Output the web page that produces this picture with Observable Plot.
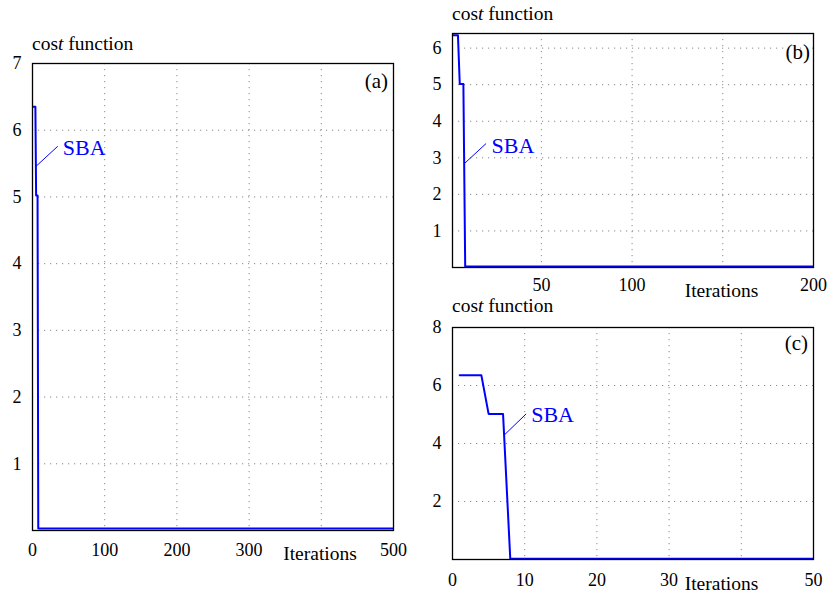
<!DOCTYPE html>
<html><head><meta charset="utf-8">
<script src="https://cdn.jsdelivr.net/npm/d3@7"></script>
<script src="https://cdn.jsdelivr.net/npm/@observablehq/plot@0.6"></script>
<style>
body{margin:0;background:#fff;}
#wrap{position:relative;width:828px;height:594px;overflow:hidden;font-family:'Liberation Serif',serif;}
#wrap svg{position:absolute;overflow:visible;font-family:'Liberation Serif',serif !important;}
#wrap svg text{font-family:'Liberation Serif',serif !important;}
</style></head><body><div id="wrap"></div>
<script>
// ---- data ----
const iterations = [1, 4, 5, 7, 8, 500];
const cost = [6.35, 6.35, 5.02, 5.02, 0.03, 0.03];
const seriesName = "SBA";
const panelLabels = ["(a)", "(b)", "(c)"];
const xDomains = [[0, 500], [1, 200], [0, 50]];
const yDomains = [[0, 7], [0, 6.4], [0, 8]];
const xTickLabels = [[0, 100, 200, 300, 500], [50, 100, 200], [0, 10, 20, 30, 50]];
const xGridLines = [[100, 200, 300, 400], [50, 100, 150], [10, 20, 30, 40]];
const yTickLabels = [[1, 2, 3, 4, 5, 6, 7], [1, 2, 3, 4, 5, 6], [2, 4, 6, 8]];
const yGridLines = [[1, 2, 3, 4, 5, 6], [1, 2, 3, 4, 5, 6], [2, 4, 6]];
const xTitle = "Iterations";
// leader annotation for the series name (data units): from [x,y] to [x,y], text at [x,y]
const leaderFrom = [[4, 5.45], [7.5, 2.84], [7.2, 4.3]];
const leaderTo = [[35, 5.76], [19.5, 3.39], [10.2, 5.02]];
const nameAt = [[42, 5.73], [22.5, 3.32], [10.9, 4.98]];

const data = iterations.map((x, i) => ({x, y: cost[i]}));

// ---- layout ----
const layout = [
  {left: 0, top: 0, width: 420, height: 594, ml: 32, mr: 27, mt: 63, mb: 64, xpad: 13,
   title: [32, 43.5], xlab: [320, 553], letter: [388, 81]},
  {left: 420, top: 0, width: 408, height: 300, ml: 32, mr: 15, mt: 33, mb: 33, xpad: 11,
   title: [32, 13.5], xlab: [301.5, 290], letter: [390, 52]},
  {left: 420, top: 290, width: 408, height: 304, ml: 32, mr: 15, mt: 37, mb: 35, xpad: 14,
   title: [32, 15], xlab: [301.5, 293], letter: [388, 53]}
];

const wrap = document.getElementById("wrap");
const BLUE = "#0000ff";
const FONT = "'Liberation Serif', serif";

layout.forEach((L, i) => {
  const ann = [{x1: leaderFrom[i][0], y1: leaderFrom[i][1], x2: leaderTo[i][0], y2: leaderTo[i][1]}];
  const svg = Plot.plot({
    width: L.width, height: L.height,
    marginLeft: L.ml, marginRight: L.mr, marginTop: L.mt, marginBottom: L.mb,
    x: {domain: xDomains[i]},
    y: {domain: yDomains[i]},
    style: {fontFamily: FONT, fontSize: "18px", background: "transparent", color: "black"},
    marks: [
      Plot.gridX(xGridLines[i], {stroke: "#8a8a8a", strokeOpacity: 1, strokeWidth: 1, strokeDasharray: "1.2,4.8"}),
      Plot.gridY(yGridLines[i], {stroke: "#8a8a8a", strokeOpacity: 1, strokeWidth: 1, strokeDasharray: "1.2,4.8"}),
      Plot.axisX({ticks: xTickLabels[i], tickSize: 0, tickPadding: L.xpad, label: null, fontSize: 18, tickFormat: d => String(d)}),
      Plot.axisY({ticks: yTickLabels[i], tickSize: 0, tickPadding: 11, label: null, fontSize: 18, tickFormat: d => String(d)}),
      Plot.line(data, {x: "x", y: "y", stroke: BLUE, strokeWidth: 2, curve: "linear", clip: true}),
      Plot.link(ann, {x1: "x1", y1: "y1", x2: "x2", y2: "y2", stroke: BLUE, strokeWidth: 1}),
      Plot.text([seriesName], {x: () => nameAt[i][0], y: () => nameAt[i][1], text: d => d, textAnchor: "start", fill: BLUE, fontSize: 22}),
      Plot.frame({stroke: "black", strokeWidth: 1.3})
    ]
  });
  svg.setAttribute("font-family", FONT);
  svg.style.left = L.left + "px";
  svg.style.top = L.top + "px";
  const s = d3.select(svg);
  // y title with italic t
  const t = s.append("text")
    .attr("x", L.title[0]).attr("y", L.title[1]).attr("dy", "0.35em")
    .attr("text-anchor", "start").attr("font-size", 19.5).attr("fill", "black");
  t.append("tspan").text("cos");
  t.append("tspan").attr("font-style", "italic").text("t");
  t.append("tspan").text(" function");
  // x title
  s.append("text").attr("x", L.xlab[0]).attr("y", L.xlab[1]).attr("dy", "0.35em")
    .attr("text-anchor", "middle").attr("font-size", 19.5).attr("fill", "black").text(xTitle);
  // panel letter
  s.append("text").attr("x", L.letter[0]).attr("y", L.letter[1]).attr("dy", "0.35em")
    .attr("text-anchor", "end").attr("font-size", 21).attr("fill", "black").text(panelLabels[i]);
  s.selectAll("text").attr("font-family", FONT).style("font-family", FONT);
  wrap.appendChild(svg);
});
</script></body></html>
